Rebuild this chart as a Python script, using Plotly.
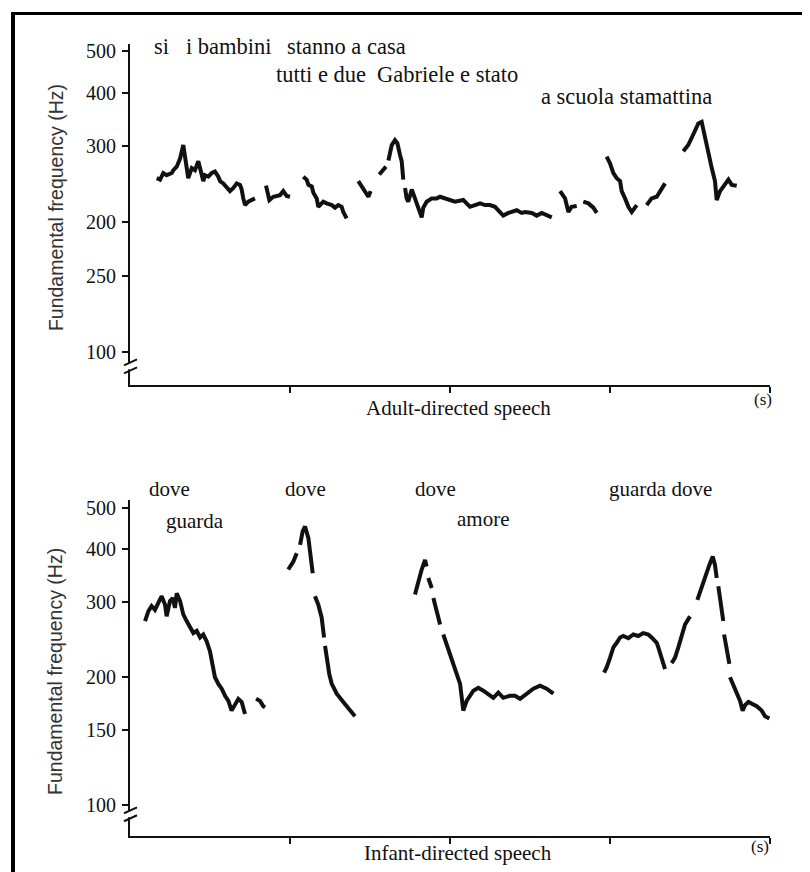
import plotly.graph_objects as go

# The page body adds an 8 px margin; the figure is sized so that it fills the window exactly.
PAGE_MARGIN = 8
W, H = 810 - PAGE_MARGIN, 872 - PAGE_MARGIN

# ---------------- Adult-directed speech: time (s) / F0 (Hz) ----------------
ads_t1 = [0.167, 0.188, 0.208, 0.229, 0.261, 0.271, 0.292, 0.313, 0.333, 0.344, 0.354, 0.364,
          0.386, 0.406, 0.427, 0.438, 0.448, 0.458, 0.469, 0.489, 0.511, 0.531, 0.552, 0.563,
          0.583, 0.604, 0.625, 0.646, 0.667, 0.688, 0.698, 0.708, 0.719, 0.739, 0.761, 0.781]
ads_f1 = [253, 251, 260, 257, 260, 264, 269, 281, 302, 286, 272, 253,
          267, 264, 277, 267, 253, 249, 257, 255, 260, 262, 255, 249,
          246, 240, 236, 240, 246, 244, 238, 227, 219, 223, 225, 227]
ads_t2 = [0.85, 0.871, 0.896, 0.938, 0.958, 0.979, 1.0]
ads_f2 = [243, 225, 229, 231, 236, 230, 229]
ads_t3 = [1.083, 1.104, 1.115, 1.136, 1.146, 1.167, 1.177, 1.188, 1.208, 1.229, 1.261, 1.281,
          1.302, 1.323, 1.333, 1.354]
ads_f3 = [255, 251, 244, 242, 234, 227, 217, 219, 223, 221, 219, 216, 219, 217, 211, 204]
ads_t4 = [1.427, 1.448, 1.469, 1.490, 1.504]
ads_f4 = [249, 242, 234, 229, 236]
ads_t5 = [1.558, 1.6, None, 1.615, 1.636, 1.656, 1.671, 1.688, 1.698, 1.708]
ads_f5 = [258, 269, None, 278, 302, 310, 305, 286, 277, 251]
ads_t6 = [1.719, 1.729, 1.739, 1.761, 1.781, 1.802, 1.823, 1.833, 1.854, 1.886, 1.917, 1.938,
          1.969, 2.0, 2.031, 2.083, 2.125, 2.156, 2.188, 2.219, 2.25, 2.281, 2.313, 2.333,
          2.365, 2.386, 2.417, 2.448, 2.469, 2.511, 2.542, 2.573, 2.604, 2.636]
ads_f6 = [240, 227, 223, 238, 227, 216, 205, 216, 223, 227, 227, 229,
          227, 225, 223, 225, 217, 219, 221, 219, 219, 217, 211, 207,
          210, 211, 213, 210, 211, 210, 207, 210, 207, 205]
ads_t7 = [2.688, 2.719, 2.740, 2.760, 2.792]
ads_f7 = [236, 227, 211, 217, 218]
ads_t8 = [2.833, 2.865, 2.896, 2.917]
ads_f8 = [223, 221, 216, 210]
ads_t9 = [2.979, 3.0, 3.021, 3.042, 3.063, 3.073, 3.094, 3.115, 3.136, 3.167]
ads_f9 = [284, 274, 260, 253, 249, 236, 227, 217, 211, 219]
ads_t10 = [3.229, 3.26, 3.292, 3.323, 3.344]
ads_f10 = [219, 227, 229, 238, 246]
ads_t11 = [3.458, 3.489, 3.521, 3.552, 3.573, 3.594, 3.615, 3.636, 3.656, 3.667, 3.688, 3.708,
           3.740, 3.761, 3.792]
ads_f11 = [292, 302, 320, 339, 342, 313, 286, 267, 249, 225, 236, 242, 251, 244, 243]

# ---------------- Infant-directed speech: time (s) / F0 (Hz) ----------------
ids_t1 = [0.094, 0.115, 0.135, 0.156, 0.177, 0.198, 0.219, 0.229, 0.25, 0.267, 0.281, 0.292,
          0.313, 0.333, 0.354, 0.375, 0.396, 0.417, 0.438, 0.458, 0.479, 0.5, 0.521, 0.531,
          0.552, 0.573, 0.594, 0.615, 0.635, 0.656, 0.677, 0.698, 0.719]
ids_f1 = [271, 286, 294, 288, 299, 310, 296, 278, 302, 307, 291, 315,
          302, 281, 271, 261, 254, 257, 248, 252, 243, 230, 211, 200,
          193, 188, 181, 176, 167, 173, 178, 175, 164]
ids_t2 = [0.788, 0.813, 0.833, 0.844]
ids_f2 = [178, 176, 171, 170]
ids_t3 = [0.989, 1.021, 1.042, None, 1.063, 1.079, 1.094, 1.115, 1.125, 1.142, None,
          1.156, 1.177, 1.198, 1.213, None, 1.219, 1.233, 1.246, 1.261, 1.292, 1.333, 1.375, 1.406]
ids_f3 = [358, 374, 391, None, 409, 440, 452, 424, 395, 351, None,
          310, 296, 276, 248, None, 237, 218, 203, 193, 183, 175, 167, 162]
ids_t4 = [1.781, 1.802, 1.823, 1.844, 1.854, None, 1.864, 1.886, None, 1.896, 1.917, 1.938, None,
          1.958, 1.979, 2.0, 2.031, 2.063, 2.083, 2.104, 2.146, 2.177, 2.208, 2.239, 2.271,
          2.302, 2.333, 2.375, 2.406, 2.438, 2.479, 2.521, 2.563, 2.604, 2.646]
ids_f4 = [313, 336, 358, 377, 364, None, 342, 324, None, 307, 286, 266, None,
          252, 239, 226, 211, 193, 167, 176, 186, 189, 186, 183, 179,
          184, 179, 181, 181, 178, 183, 188, 191, 188, 183]
ids_t5 = [2.963, 2.979, 3.0, 3.021, 3.042, 3.063, 3.083, 3.115, 3.146, 3.177, 3.208, 3.24,
          3.26, 3.292, 3.302, 3.323, 3.344]
ids_f5 = [205, 211, 222, 235, 241, 248, 250, 247, 252, 250, 254, 252, 248, 241, 235, 222, 209]
ids_t6 = [3.385, 3.406, 3.427, 3.448, 3.469, 3.5, None, 3.546, 3.563, 3.583, 3.604, 3.621,
          3.642, 3.656, 3.667, None, 3.677, 3.698, 3.708, None, 3.713, 3.729, 3.746, None,
          3.75, 3.771, 3.792, 3.813, 3.829, 3.844, 3.865, 3.896, 3.917, 3.948, 3.969, 3.996]
ids_f6 = [216, 222, 235, 252, 266, 278, None, 304, 318, 336, 351, 367,
          384, 367, 342, None, 327, 286, 271, None, 252, 235, 215, None,
          200, 191, 183, 176, 167, 172, 175, 173, 171, 167, 162, 160]

# ---------------- axis ticks and labels ----------------
y_tickvals = [100, 150, 200, 300, 400, 500]
ads_ticktext = ["100", "250", "200", "300", "400", "500"]
ids_ticktext = ["100", "150", "200", "300", "400", "500"]
x_tickvals = [1, 2, 3, 4]

ads_words = ["si   i bambini", "stanno a casa", "tutti e due", "Gabriele e stato", "a scuola stamattina"]
ids_words = ["dove", "guarda", "dove", "dove", "amore", "guarda dove"]


def join(pairs):
    xs, ys = [], []
    for t, f in pairs:
        if xs:
            xs.append(None)
            ys.append(None)
        xs += t
        ys += f
    return xs, ys


ads_x, ads_y = join([(ads_t1, ads_f1), (ads_t2, ads_f2), (ads_t3, ads_f3), (ads_t4, ads_f4),
                     (ads_t5, ads_f5), (ads_t6, ads_f6), (ads_t7, ads_f7), (ads_t8, ads_f8),
                     (ads_t9, ads_f9), (ads_t10, ads_f10), (ads_t11, ads_f11)])
ids_x, ids_y = join([(ids_t1, ids_f1), (ids_t2, ids_f2), (ids_t3, ids_f3), (ids_t4, ids_f4),
                     (ids_t5, ids_f5), (ids_t6, ids_f6)])

INK = "#111111"
SERIF = "Liberation Serif"
SANS = "Liberation Sans"

fig = go.Figure()
fig.add_trace(go.Scatter(x=ads_x, y=ads_y, mode="lines", xaxis="x", yaxis="y",
                         line=dict(color=INK, width=4), connectgaps=False,
                         hoverinfo="skip", showlegend=False))
fig.add_trace(go.Scatter(x=ids_x, y=ids_y, mode="lines", xaxis="x2", yaxis="y2",
                         line=dict(color=INK, width=4), connectgaps=False,
                         hoverinfo="skip", showlegend=False))


def px_x(p):
    """screen pixel -> paper x"""
    return (p - PAGE_MARGIN) / W


def px_y(p):
    """screen pixel -> paper y"""
    return 1 - (p - PAGE_MARGIN) / H


xdom = [px_x(130), px_x(770)]
common_x = dict(domain=xdom, range=[0, 4], showline=True, linecolor=INK, linewidth=2,
                ticks="outside", tickvals=x_tickvals, ticklen=6, tickwidth=2, tickcolor=INK,
                showticklabels=False, showgrid=False, zeroline=False, fixedrange=True)
common_y = dict(type="log", showline=True, linecolor=INK, linewidth=2, ticks="outside",
                tickvals=y_tickvals, ticklen=6, tickwidth=2, tickcolor=INK,
                tickfont=dict(family=SERIF, size=20, color=INK), ticklabelstandoff=2,
                showgrid=False, zeroline=False, fixedrange=True)

fig.update_layout(
    width=W, height=H, margin=dict(l=0, r=0, t=0, b=0),
    paper_bgcolor="white", plot_bgcolor="white", showlegend=False,
    xaxis=dict(anchor="y", **common_x),
    yaxis=dict(anchor="x", domain=[px_y(383), px_y(40)], range=[1.9217, 2.7152],
               ticktext=ads_ticktext, **common_y),
    xaxis2=dict(anchor="y2", **common_x),
    yaxis2=dict(anchor="x2", domain=[px_y(836), px_y(498)], range=[1.9280, 2.7178],
                ticktext=ids_ticktext, **common_y),
)


def ann(text, cx, cy, size=21, family=SERIF, angle=0, color=INK):
    fig.add_annotation(text=text, x=px_x(cx), y=px_y(cy), xref="paper", yref="paper",
                       showarrow=False, xanchor="center", yanchor="middle", textangle=angle,
                       font=dict(family=family, size=size, color=color))


# word labels, adult panel
ann(ads_words[0], 213, 43, size=22.5)
ann(ads_words[1], 346, 43, size=22.5)
ann(ads_words[2], 321, 71, size=22.5)
ann(ads_words[3], 447, 71, size=22.5)
ann(ads_words[4], 626, 93, size=22.5)
# word labels, infant panel
ann(ids_words[0], 169, 487)
ann(ids_words[1], 195, 519)
ann(ids_words[2], 305, 487)
ann(ids_words[3], 436, 487)
ann(ids_words[4], 483, 517)
ann(ids_words[5], 660, 487)

# axis titles
ann("Adult-directed speech", 458, 406, size=21)
ann("(s)", 763, 397, size=17)
ann("Infant-directed speech", 458, 853, size=21)
ann("(s)", 760, 846, size=17)
ann("Fundamental frequency (Hz)", 56, 205, size=19.5, family=SANS, angle=-90, color="#333333")
ann("Fundamental frequency (Hz)", 55, 671, size=19.5, family=SANS, angle=-90, color="#333333")

# page frame (left and top edges)
fig.add_shape(type="rect", xref="paper", yref="paper", x0=px_x(11), x1=px_x(15),
              y0=px_y(872), y1=px_y(8), fillcolor="black", line=dict(width=0))
fig.add_shape(type="rect", xref="paper", yref="paper", x0=px_x(11), x1=px_x(810),
              y0=px_y(11), y1=px_y(8), fillcolor="black", line=dict(width=0))

# axis break marks
for yb in (364, 814):
    fig.add_shape(type="rect", xref="paper", yref="paper", x0=px_x(126), x1=px_x(134),
                  y0=px_y(yb + 3), y1=px_y(yb - 3), fillcolor="white", line=dict(width=0))
    for off in (-4, 4):
        fig.add_shape(type="line", xref="paper", yref="paper",
                      x0=px_x(124), x1=px_x(137), y0=px_y(yb + off + 3), y1=px_y(yb + off - 3),
                      line=dict(color=INK, width=2))

fig.write_html("out.html")
